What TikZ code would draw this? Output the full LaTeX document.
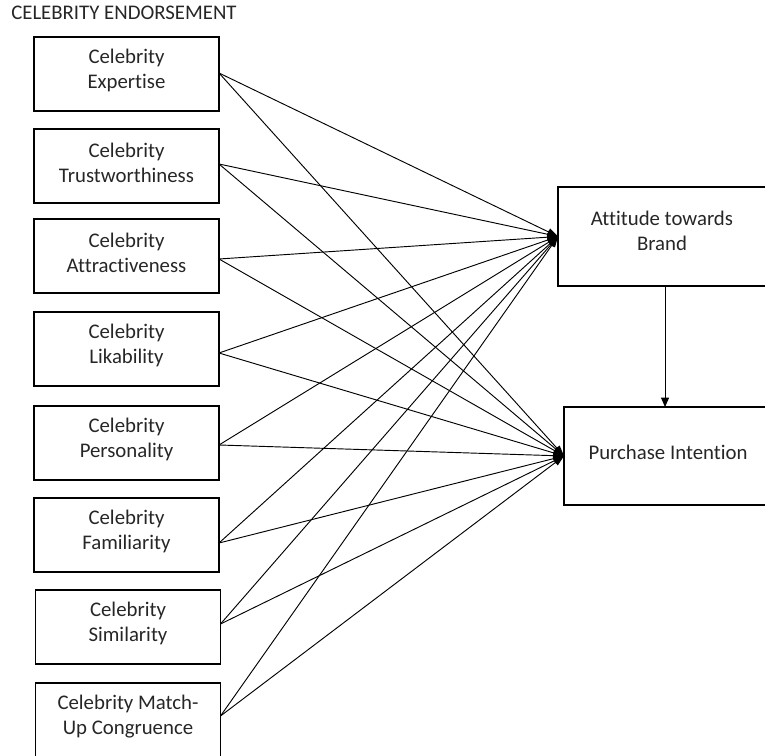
\documentclass[tikz,border=0pt]{standalone}
\usepackage{fontspec}
\setmainfont[Ligatures=NoCommon]{Carlito}
\usetikzlibrary{arrows.meta}
\begin{document}
\begin{tikzpicture}[x=0.75pt,y=-0.75pt,
  lbox/.style={draw,line width=0.9pt,minimum width=138.75pt,minimum height=55.5pt,inner sep=0pt,outer sep=0pt},
  rbox/.style={draw,line width=0.9pt,minimum width=156.75pt,minimum height=74.25pt,inner sep=0pt,outer sep=0pt},
  txt/.style={align=center,font=\fontsize{15.6}{18.75}\selectfont,text=black!85,inner sep=0pt},
  link/.style={line width=0.7pt,-{Triangle[length=8pt,width=5.5pt]}}]
\useasboundingbox (0,0) rectangle (765,756);
\node[txt,anchor=west] (title) at (11,13) {CELEBRITY ENDORSEMENT};
% left boxes
\node[lbox] (b1) at (126.5,74) {};
\node[lbox] (b2) at (126.5,166) {};
\node[lbox] (b3) at (126.5,256) {};
\node[lbox] (b4) at (126.5,349) {};
\node[lbox] (b5) at (126.5,443) {};
\node[lbox] (b6) at (126.5,535) {};
\node[lbox] (b7) at (128,627) {};
\node[lbox] (b8) at (128,720) {};
\node[txt] (t1) at (126.5,70.5) {Celebrity\\Expertise};
\node[txt] (t2) at (126.5,162.5) {Celebrity\\Trustworthiness};
\node[txt] (t3) at (126.5,252.5) {Celebrity\\Attractiveness};
\node[txt] (t4) at (126.5,345.5) {Celebrity\\Likability};
\node[txt] (t5) at (126.5,439.5) {Celebrity\\Personality};
\node[txt] (t6) at (126.5,531.5) {Celebrity\\Familiarity};
\node[txt] (t7) at (128,623.5) {Celebrity\\Similarity};
\node[txt] (t8) at (128,716.5) {Celebrity Match-\\Up Congruence};
% right boxes
\node[rbox] (att) at (662.5,236.5) {};
\node[rbox,minimum width=156pt,minimum height=73.5pt] (pur) at (668,456) {};
\node[txt] (tatt) at (662,231) {Attitude towards\\Brand};
\node[txt] (tpur) at (668,452) {Purchase Intention};
% connectors
\foreach \b/\s in {b1/0.75pt,b2/1.5pt,b3/-2.25pt,b4/-3pt,b5/-1.5pt,b6/-6pt,b7/2.25pt,b8/3pt}{
  \draw[link] ([yshift=\s]\b.east) -- (att.west);
  \draw[link] ([yshift=\s]\b.east) -- (pur.west);
}
\draw[line width=0.7pt,-{Triangle[length=7pt,width=6pt]}] ([xshift=1.9pt]att.south) -- ([xshift=1.9pt]att.south |- pur.north);
\end{tikzpicture}
\end{document}
